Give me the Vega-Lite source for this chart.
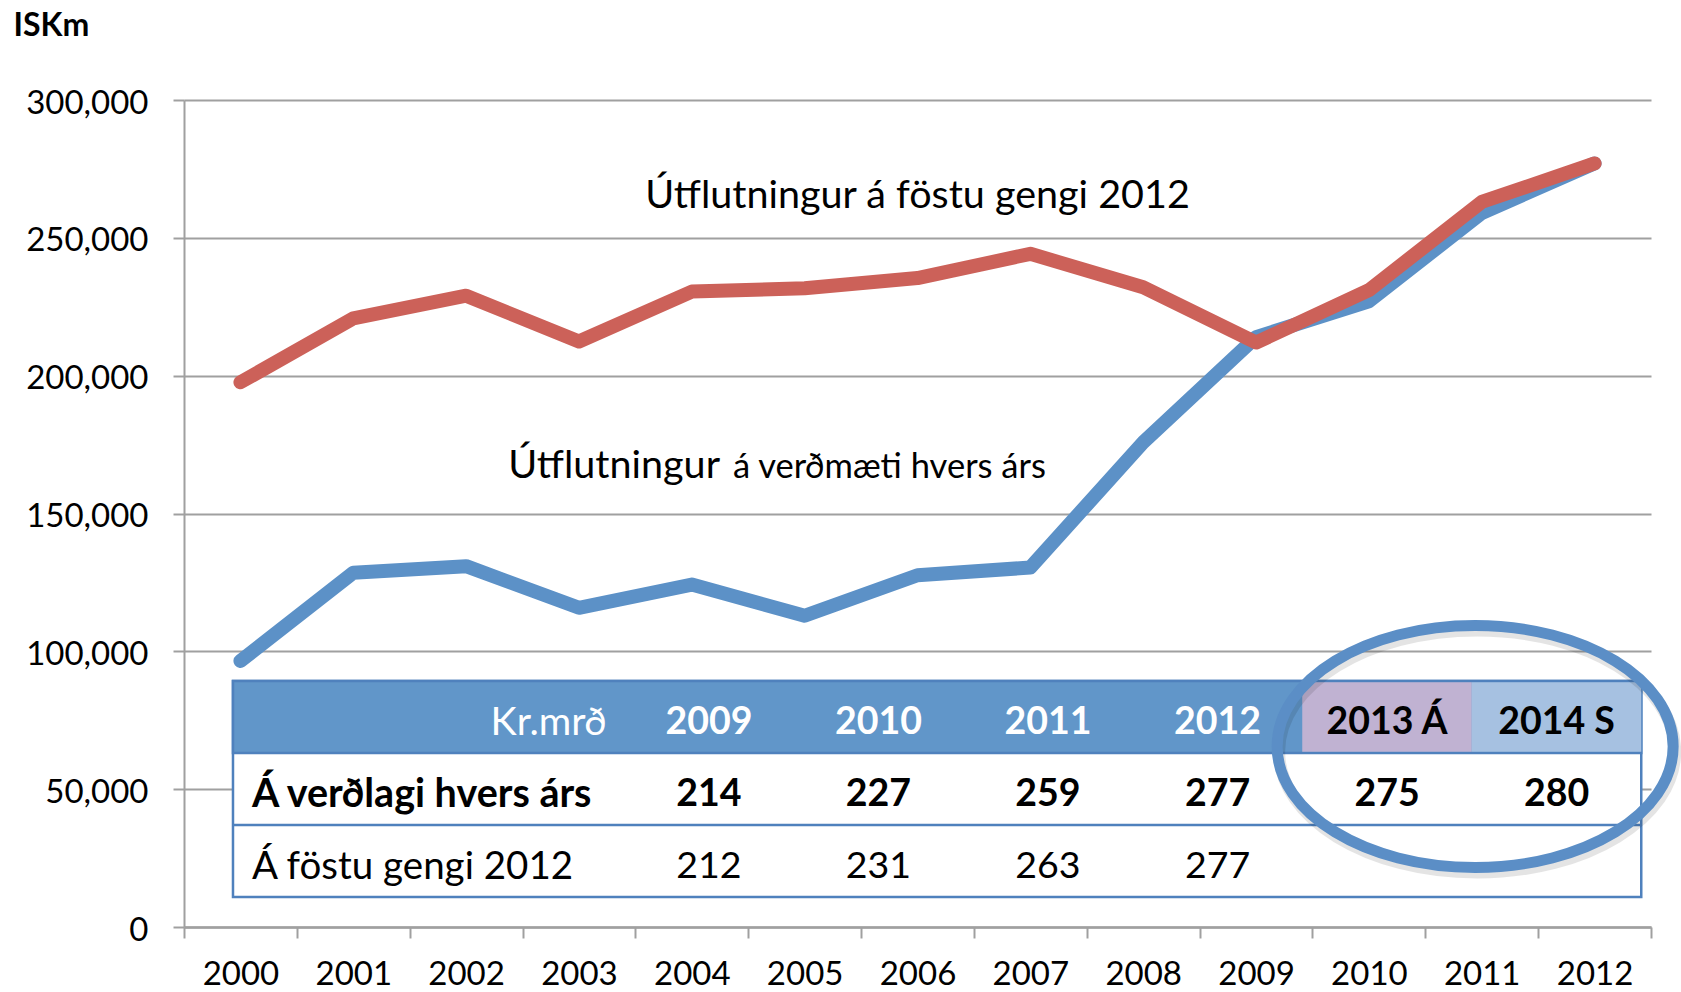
{
  "$schema": "https://vega.github.io/schema/vega-lite/v6.json",
  "width": 1467,
  "height": 827,
  "autosize": {"type": "none"},
  "padding": {"left": 184, "top": 100, "right": 30, "bottom": 65},
  "background": "#ffffff",
  "config": {"view": {"stroke": null}, "font": "Lato", "text": {"font": "Lato"}},
  "datasets": {
    "exports": [
      {"year": 2000, "series": "Útflutningur á verðmæti hvers árs", "value": 96500},
      {"year": 2001, "series": "Útflutningur á verðmæti hvers árs", "value": 128500},
      {"year": 2002, "series": "Útflutningur á verðmæti hvers árs", "value": 130900},
      {"year": 2003, "series": "Útflutningur á verðmæti hvers árs", "value": 115800},
      {"year": 2004, "series": "Útflutningur á verðmæti hvers árs", "value": 124200},
      {"year": 2005, "series": "Útflutningur á verðmæti hvers árs", "value": 112900},
      {"year": 2006, "series": "Útflutningur á verðmæti hvers árs", "value": 127600},
      {"year": 2007, "series": "Útflutningur á verðmæti hvers árs", "value": 130400},
      {"year": 2008, "series": "Útflutningur á verðmæti hvers árs", "value": 175800},
      {"year": 2009, "series": "Útflutningur á verðmæti hvers árs", "value": 214000},
      {"year": 2010, "series": "Útflutningur á verðmæti hvers árs", "value": 227000},
      {"year": 2011, "series": "Útflutningur á verðmæti hvers árs", "value": 259000},
      {"year": 2012, "series": "Útflutningur á verðmæti hvers árs", "value": 277000},
      {"year": 2000, "series": "Útflutningur á föstu gengi 2012", "value": 197600},
      {"year": 2001, "series": "Útflutningur á föstu gengi 2012", "value": 220800},
      {"year": 2002, "series": "Útflutningur á föstu gengi 2012", "value": 229000},
      {"year": 2003, "series": "Útflutningur á föstu gengi 2012", "value": 212400},
      {"year": 2004, "series": "Útflutningur á föstu gengi 2012", "value": 230500},
      {"year": 2005, "series": "Útflutningur á föstu gengi 2012", "value": 231700},
      {"year": 2006, "series": "Útflutningur á föstu gengi 2012", "value": 235400},
      {"year": 2007, "series": "Útflutningur á föstu gengi 2012", "value": 244200},
      {"year": 2008, "series": "Útflutningur á föstu gengi 2012", "value": 232100},
      {"year": 2009, "series": "Útflutningur á föstu gengi 2012", "value": 212000},
      {"year": 2010, "series": "Útflutningur á föstu gengi 2012", "value": 231000},
      {"year": 2011, "series": "Útflutningur á föstu gengi 2012", "value": 263000},
      {"year": 2012, "series": "Útflutningur á föstu gengi 2012", "value": 277000}
    ],
    "header": [
      {"yr": 2009, "header": "2009", "status": "Rauntölur"},
      {"yr": 2010, "header": "2010", "status": "Rauntölur"},
      {"yr": 2011, "header": "2011", "status": "Rauntölur"},
      {"yr": 2012, "header": "2012", "status": "Rauntölur"},
      {"yr": 2013, "header": "2013 Á", "status": "Áætlun"},
      {"yr": 2014, "header": "2014 S", "status": "Spá"}
    ],
    "measures": [
      {"row": 1, "measure": "Á verðlagi hvers árs"},
      {"row": 2, "measure": "Á föstu gengi 2012"}
    ],
    "table": [
      {"row": 1, "yr": 2009, "value": 214},
      {"row": 1, "yr": 2010, "value": 227},
      {"row": 1, "yr": 2011, "value": 259},
      {"row": 1, "yr": 2012, "value": 277},
      {"row": 1, "yr": 2013, "value": 275},
      {"row": 1, "yr": 2014, "value": 280},
      {"row": 2, "yr": 2009, "value": 212},
      {"row": 2, "yr": 2010, "value": 231},
      {"row": 2, "yr": 2011, "value": 263},
      {"row": 2, "yr": 2012, "value": 277}
    ]
  },
  "layer": [
    {
      "layer": [
        {
          "data": {"name": "exports"},
          "transform": [{"filter": "datum.series === 'Útflutningur á verðmæti hvers árs'"}],
          "mark": {"type": "line", "strokeWidth": 14, "strokeCap": "round", "strokeJoin": "round"},
          "encoding": {
            "x": {
              "field": "year", "type": "ordinal",
              "scale": {"type": "band", "domain": [2000, 2001, 2002, 2003, 2004, 2005, 2006, 2007, 2008, 2009, 2010, 2011, 2012], "paddingInner": 0, "paddingOuter": 0},
              "axis": {"title": null, "labelAngle": 0, "labelFontSize": 33, "labelFont": "Lato", "labelColor": "#000000", "labelPadding": 20, "tickBand": "extent", "tickSize": 11, "tickColor": "#A0A0A0", "tickWidth": 2, "domainColor": "#A0A0A0", "domainWidth": 2.5, "grid": false}
            },
            "y": {
              "field": "value", "type": "quantitative",
              "scale": {"domain": [0, 300000], "nice": false},
              "axis": {"title": "ISKm", "titleAngle": 0, "titleAlign": "left", "titleBaseline": "alphabetic", "titleX": -171, "titleY": -65, "titleFontSize": 32, "titleFontWeight": "bold", "titleFont": "Lato", "titleColor": "#000000",
                       "values": [0, 50000, 100000, 150000, 200000, 250000, 300000], "format": ",.0f", "labelFontSize": 33, "labelFont": "Lato", "labelPadding": 25, "labelOffset": 3, "labelColor": "#000000",
                       "tickSize": 11, "tickColor": "#A0A0A0", "tickWidth": 2, "grid": true, "gridColor": "#A0A0A0", "gridWidth": 2, "domainColor": "#A0A0A0", "domainWidth": 2}
            },
            "color": {"field": "series", "type": "nominal", "scale": {"domain": ["Útflutningur á verðmæti hvers árs", "Útflutningur á föstu gengi 2012"], "range": ["#5C91C7", "#CC6159"]}, "legend": null}
          }
        },
        {
          "data": {"name": "exports"},
          "transform": [{"filter": "datum.series === 'Útflutningur á föstu gengi 2012'"}],
          "mark": {"type": "line", "strokeWidth": 14, "strokeCap": "round", "strokeJoin": "round"},
          "encoding": {
            "x": {"field": "year", "type": "ordinal"},
            "y": {"field": "value", "type": "quantitative"},
            "color": {"field": "series", "type": "nominal", "legend": null}
          }
        },
        {
          "data": {"values": [{"t": "Útflutningur á föstu gengi 2012"}]},
          "mark": {"type": "text", "font": "Lato", "fontSize": 39.5, "align": "center", "baseline": "alphabetic", "color": "#000000"},
          "encoding": {
            "x": {"datum": 2006, "type": "ordinal", "bandPosition": 0.5},
            "y": {"datum": 260800, "type": "quantitative"},
            "text": {"field": "t"}
          }
        },
        {
          "data": {"values": [{"t": "Útflutningur"}]},
          "mark": {"type": "text", "font": "Lato", "fontSize": 39.5, "align": "right", "baseline": "alphabetic", "color": "#000000"},
          "encoding": {
            "x": {"datum": 2004, "type": "ordinal", "bandPosition": 0.75},
            "y": {"datum": 162900, "type": "quantitative"},
            "text": {"field": "t"}
          }
        },
        {
          "data": {"values": [{"t": "á verðmæti hvers árs"}]},
          "mark": {"type": "text", "font": "Lato", "fontSize": 34.5, "align": "left", "baseline": "alphabetic", "color": "#000000"},
          "encoding": {
            "x": {"datum": 2004, "type": "ordinal", "bandPosition": 0.865},
            "y": {"datum": 162900, "type": "quantitative"},
            "text": {"field": "t"}
          }
        }
      ]
    },
    {
      "layer": [
        {
          "data": {"values": [{"part": "frame"}]},
          "mark": {"type": "rect", "fill": "#ffffff", "stroke": "#4F81BD", "strokeWidth": 2.5},
          "encoding": {
            "x": {"datum": 2006.1917, "type": "quantitative", "scale": {"domain": [2005.9027, 2014.5575], "nice": false, "zero": false}, "axis": null},
            "x2": {"datum": 2014.5},
            "y": {"datum": -0.5, "type": "quantitative", "scale": {"domain": [-8.569, 2.917], "reverse": true, "nice": false, "zero": false}, "axis": null},
            "y2": {"datum": 2.5}
          }
        },
        {
          "data": {"values": [{"part": "header"}]},
          "mark": {"type": "rect", "fill": "#6196C9", "stroke": "#4F81BD", "strokeWidth": 2.5},
          "encoding": {
            "x": {"datum": 2006.1917, "type": "quantitative"},
            "x2": {"datum": 2014.5},
            "y": {"datum": -0.5, "type": "quantitative"},
            "y2": {"datum": 0.5}
          }
        },
        {
          "data": {"values": [{"part": "separator"}]},
          "mark": {"type": "rule", "stroke": "#4F81BD", "strokeWidth": 2.5},
          "encoding": {
            "x": {"datum": 2006.1917, "type": "quantitative"},
            "x2": {"datum": 2014.5},
            "y": {"datum": 1.5, "type": "quantitative"}
          }
        },
        {
          "data": {"name": "header"},
          "transform": [{"filter": "datum.status !== 'Rauntölur'"}],
          "mark": {"type": "tick", "orient": "vertical", "thickness": 169.5, "size": 69.5, "opacity": 1},
          "encoding": {
            "x": {"field": "yr", "type": "quantitative"},
            "y": {"datum": 0, "type": "quantitative"},
            "color": {"field": "status", "type": "nominal", "scale": {"domain": ["Áætlun", "Spá"], "range": ["#C0B2D2", "#A6C1E1"]}, "legend": null}
          }
        },
        {
          "data": {"values": [{"unit": "Kr.mrð"}]},
          "mark": {"type": "text", "font": "Lato", "fontSize": 39.5, "align": "right", "baseline": "middle", "dy": 6, "color": "#ffffff"},
          "encoding": {
            "x": {"datum": 2008.3965, "type": "quantitative"},
            "y": {"datum": 0, "type": "quantitative"},
            "text": {"field": "unit"}
          }
        },
        {
          "data": {"name": "header"},
          "transform": [{"filter": "datum.status === 'Rauntölur'"}],
          "mark": {"type": "text", "font": "Lato", "fontSize": 37.5, "fontWeight": "bold", "align": "center", "baseline": "middle", "dy": 6, "color": "#ffffff"},
          "encoding": {
            "x": {"field": "yr", "type": "quantitative"},
            "y": {"datum": 0, "type": "quantitative"},
            "text": {"field": "header"}
          }
        },
        {
          "data": {"name": "header"},
          "transform": [{"filter": "datum.status !== 'Rauntölur'"}],
          "mark": {"type": "text", "font": "Lato", "fontSize": 37.5, "fontWeight": "bold", "align": "center", "baseline": "middle", "dy": 6, "color": "#000000"},
          "encoding": {
            "x": {"field": "yr", "type": "quantitative"},
            "y": {"datum": 0, "type": "quantitative"},
            "text": {"field": "header"}
          }
        },
        {
          "data": {"name": "measures"},
          "transform": [{"filter": "datum.row === 1"}],
          "mark": {"type": "text", "font": "Lato", "fontSize": 39.5, "fontWeight": "bold", "align": "left", "baseline": "middle", "dy": 6, "color": "#000000"},
          "encoding": {
            "x": {"datum": 2006.3038, "type": "quantitative"},
            "y": {"field": "row", "type": "quantitative"},
            "text": {"field": "measure"}
          }
        },
        {
          "data": {"name": "measures"},
          "transform": [{"filter": "datum.row === 2"}],
          "mark": {"type": "text", "font": "Lato", "fontSize": 38.5, "align": "left", "baseline": "middle", "dy": 6, "color": "#000000"},
          "encoding": {
            "x": {"datum": 2006.3038, "type": "quantitative"},
            "y": {"field": "row", "type": "quantitative"},
            "text": {"field": "measure"}
          }
        },
        {
          "data": {"name": "table"},
          "transform": [{"filter": "datum.row === 1"}],
          "mark": {"type": "text", "font": "Lato", "fontSize": 37.5, "fontWeight": "bold", "align": "center", "baseline": "middle", "dy": 6, "color": "#000000"},
          "encoding": {
            "x": {"field": "yr", "type": "quantitative"},
            "y": {"field": "row", "type": "quantitative"},
            "text": {"field": "value", "type": "quantitative"}
          }
        },
        {
          "data": {"name": "table"},
          "transform": [{"filter": "datum.row === 2"}],
          "mark": {"type": "text", "font": "Lato", "fontSize": 37.5, "align": "center", "baseline": "middle", "dy": 6, "color": "#000000"},
          "encoding": {
            "x": {"field": "yr", "type": "quantitative"},
            "y": {"field": "row", "type": "quantitative"},
            "text": {"field": "value", "type": "quantitative"}
          }
        },
        {
          "data": {"values": [{"note": "Áætlun og spá"}]},
          "mark": {"type": "point", "shape": "M1,0C1,0.3375,0.5523,0.611,0,0.611C-0.5523,0.611,-1,0.3375,-1,0C-1,-0.3375,-0.5523,-0.611,0,-0.611C0.5523,-0.611,1,-0.3375,1,0Z", "size": 156816, "filled": false, "stroke": "#000000", "strokeWidth": 12, "opacity": 0.1, "xOffset": 2, "yOffset": 5},
          "encoding": {
            "x": {"datum": 2013.52, "type": "quantitative"},
            "y": {"datum": 0.41, "type": "quantitative"}
          }
        },
        {
          "data": {"values": [{"note": "Áætlun og spá"}]},
          "mark": {"type": "point", "shape": "M1,0C1,0.3375,0.5523,0.611,0,0.611C-0.5523,0.611,-1,0.3375,-1,0C-1,-0.3375,-0.5523,-0.611,0,-0.611C0.5523,-0.611,1,-0.3375,1,0Z", "size": 156816, "filled": false, "stroke": "#5B8EC6", "strokeWidth": 11, "opacity": 1},
          "encoding": {
            "x": {"datum": 2013.52, "type": "quantitative"},
            "y": {"datum": 0.41, "type": "quantitative"}
          }
        }
      ]
    }
  ],
  "resolve": {"scale": {"x": "independent", "y": "independent", "color": "independent"}}
}
